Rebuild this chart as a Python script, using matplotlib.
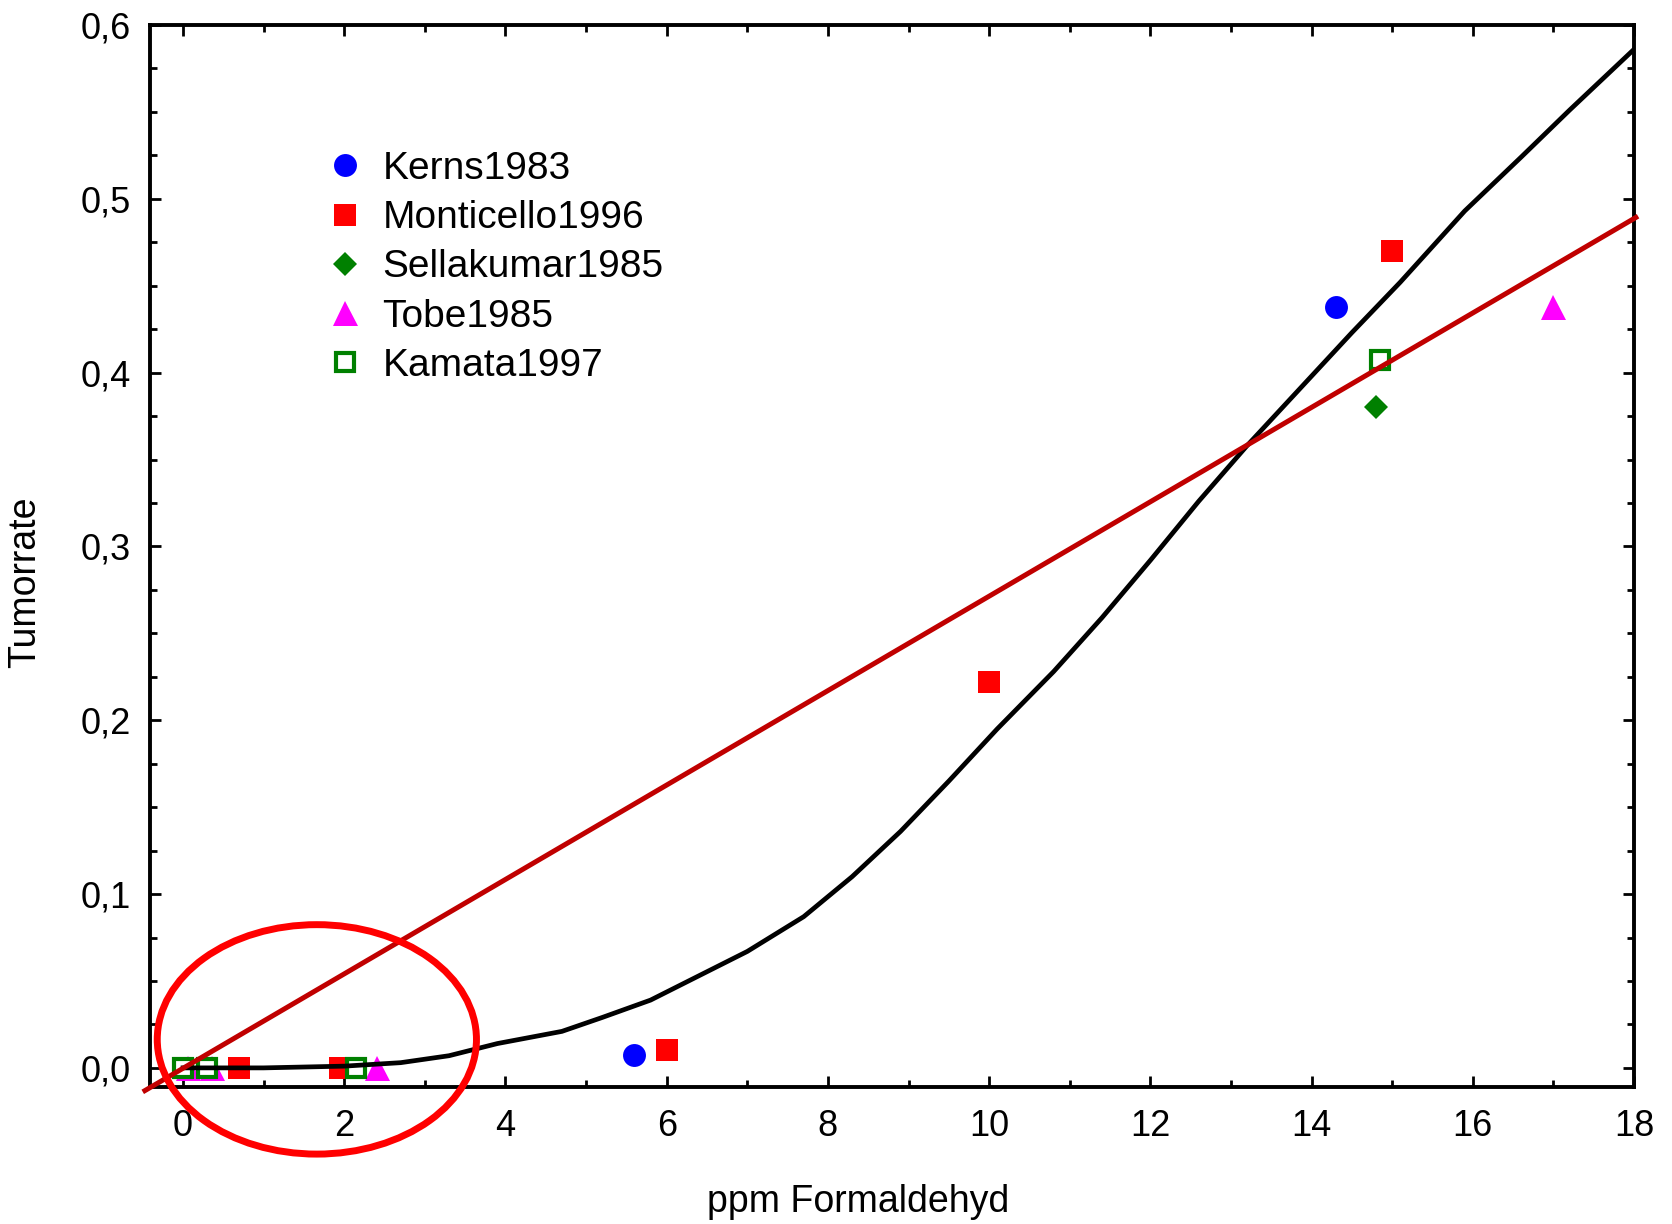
import matplotlib
matplotlib.use("Agg")
import matplotlib.pyplot as plt
from matplotlib.patches import Ellipse
from matplotlib.ticker import MultipleLocator, FuncFormatter

plt.rcParams['font.family'] = ['Liberation Sans', 'DejaVu Sans']

# --- data ---
studies = ["Kerns1983", "Monticello1996", "Sellakumar1985", "Tobe1985", "Kamata1997"]
kerns_x = [5.6, 14.3]
kerns_y = [0.0075, 0.4375]
monticello_x = [0.7, 1.95, 6.0, 10.0, 15.0]
monticello_y = [0.0, 0.0, 0.0105, 0.222, 0.470]
sellakumar_x = [14.8]
sellakumar_y = [0.3805]
tobe_x = [0.06, 0.36, 2.4, 17.0]
tobe_y = [0.0, 0.0, 0.0, 0.438]
kamata_x = [0.0, 0.3, 2.15, 14.85]
kamata_y = [0.0, 0.0, 0.0, 0.4075]

# fitted dose-response curve (black)
curve_x = [0.0, 1.0, 2.0, 2.7, 3.3, 3.9, 4.7, 5.2, 5.8, 6.4, 7.0, 7.7, 8.3,
           8.9, 9.5, 10.1, 10.8, 11.4, 12.0, 12.6, 13.2, 13.9, 14.5, 15.1,
           15.9, 16.6, 17.2, 18.0]
curve_y = [0.0, 0.0, 0.001, 0.003, 0.007, 0.014, 0.021, 0.029, 0.039, 0.053,
           0.067, 0.087, 0.110, 0.136, 0.165, 0.195, 0.228, 0.259, 0.292,
           0.326, 0.358, 0.393, 0.423, 0.452, 0.493, 0.524, 0.551, 0.586]
# linear fit (dark red), end points
linear_x = [-0.5, 18.05]
linear_y = [-0.0138, 0.490]
# highlight ellipse round the low-dose region
ell_center = (1.66, 0.0164)
ell_w, ell_h = 3.96, 0.132

W, H = 1672, 1224
fig = plt.figure(figsize=(W / 100, H / 100), dpi=100, facecolor="white")
ax = fig.add_axes([150 / W, 1 - 1087 / H, (1634 - 150) / W, (1087 - 25) / H])

ax.plot(tobe_x, tobe_y, ls="none", marker="^", ms=18, mew=0, color="#ff00ff",
        label="Tobe1985", zorder=3)
ax.plot(kerns_x, kerns_y, ls="none", marker="o", ms=16.5, mew=0, color="#0000ff",
        label="Kerns1983", zorder=3)
ax.plot(monticello_x, monticello_y, ls="none", marker="s", ms=16.5, mew=0,
        color="#ff0000", label="Monticello1996", zorder=3)
ax.plot(sellakumar_x, sellakumar_y, ls="none", marker="D", ms=12, mew=0,
        color="#008000", label="Sellakumar1985", zorder=3)
ax.plot(kamata_x, kamata_y, ls="none", marker="s", ms=13.5, mew=3,
        mfc="white", mec="#008000", label="Kamata1997", zorder=4)

ax.plot(curve_x, curve_y, color="black", lw=3.4, zorder=5)
ax.plot(linear_x, linear_y, color="#c00000", lw=3.6, zorder=6, clip_on=False,
        solid_capstyle="butt")
ax.add_patch(Ellipse(ell_center, ell_w, ell_h, fill=False, edgecolor="#ff0000",
                     lw=5, zorder=10, clip_on=False))

ax.set_xlim(-0.41, 18)
ax.set_ylim(-0.011, 0.6)
ax.xaxis.set_major_locator(MultipleLocator(2))
ax.xaxis.set_minor_locator(MultipleLocator(1))
ax.yaxis.set_major_locator(MultipleLocator(0.1))
ax.yaxis.set_minor_locator(MultipleLocator(0.025))
ax.yaxis.set_major_formatter(FuncFormatter(lambda v, p: f"{v:.1f}".replace(".", ",")))
ax.xaxis.set_major_formatter(FuncFormatter(lambda v, p: f"{v:.0f}"))
ax.tick_params(which="both", direction="in", top=True, right=True, width=2,
               colors="black", labelsize=26)
ax.tick_params(which="major", length=8)
ax.tick_params(which="minor", length=5)
ax.tick_params(axis="y", pad=14)
ax.tick_params(axis="x", pad=16)
for sp in ax.spines.values():
    sp.set_linewidth(2.8)
    sp.set_color("black")

ax.set_xlabel("ppm Formaldehyd", fontsize=27)
ax.set_ylabel("Tumorrate", fontsize=27)
ax.xaxis.set_label_coords(0.477, -0.091)
ax.yaxis.set_label_coords(-0.072, 0.4755)

handles, labels = ax.get_legend_handles_labels()
order = [labels.index(s) for s in studies]
ax.legend([handles[i] for i in order], [labels[i] for i in order],
          loc="upper left", bbox_to_anchor=(326 / W, 1 - 151 / H),
          bbox_transform=fig.transFigure, frameon=False, fontsize=28,
          numpoints=1, handlelength=1.0, handletextpad=0.45, labelspacing=0.34,
          borderpad=0, borderaxespad=0)

fig.savefig("out.png", dpi=100, facecolor="white")
